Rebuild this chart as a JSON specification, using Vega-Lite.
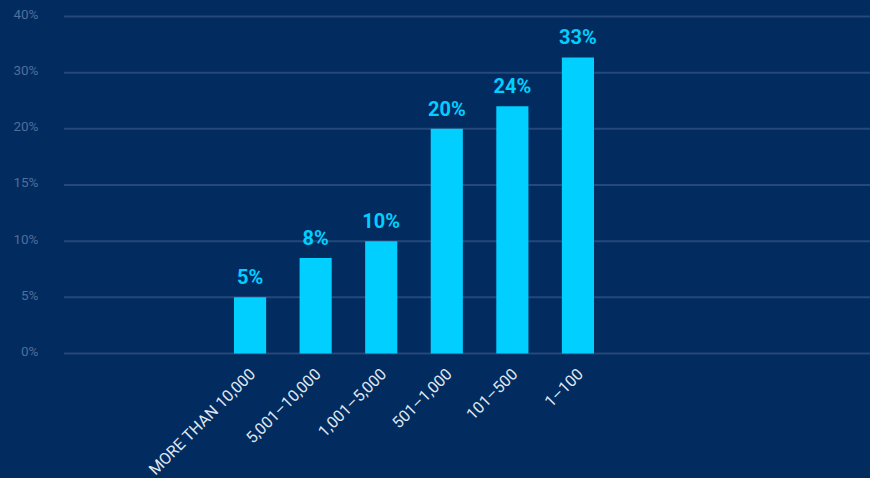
{
  "$schema": "https://vega.github.io/schema/vega-lite/v6.json",
  "width": 806,
  "height": 337,
  "autosize": {"type": "none"},
  "padding": {"left": 64, "top": 16.5, "right": 0, "bottom": 124.5},
  "background": "#022b5f",
  "config": {
    "view": {"stroke": null},
    "font": "Roboto"
  },
  "datasets": {
    "shares": [
      {"size": "MORE THAN 10,000", "pct": 5, "label": "5%"},
      {"size": "5,001–10,000", "pct": 8.5, "label": "8%"},
      {"size": "1,001–5,000", "pct": 10, "label": "10%"},
      {"size": "501–1,000", "pct": 20, "label": "20%"},
      {"size": "101–500", "pct": 24, "label": "24%"},
      {"size": "1–100", "pct": 32.7, "label": "33%"}
    ],
    "grid": [
      {"pct": 0}, {"pct": 5}, {"pct": 10}, {"pct": 15}, {"pct": 20}, {"pct": 30}, {"pct": 40}
    ]
  },
  "resolve": {"scale": {"y": "shared"}},
  "layer": [
    {
      "data": {"name": "grid"},
      "mark": {"type": "rule", "color": "#25497a", "strokeWidth": 2},
      "encoding": {
        "y": {
          "field": "pct",
          "type": "quantitative",
          "scale": {"type": "linear", "domain": [0, 20, 40], "range": [337, 112.3, 0], "nice": false, "zero": false},
          "axis": {
            "title": null,
            "values": [0, 5, 10, 15, 20, 30, 40],
            "labelExpr": "datum.value + '%'",
            "domain": false,
            "ticks": false,
            "grid": false,
            "labelColor": "#4f6e9c",
            "labelFontSize": 13.5,
            "labelPadding": 26,
            "labelOffset": -2,
            "labelFont": "Roboto"
          }
        }
      }
    },
    {
      "data": {"name": "shares"},
      "encoding": {
        "x": {
          "field": "size",
          "type": "nominal",
          "sort": null,
          "scale": {"paddingInner": 0.51, "paddingOuter": 0, "range": [170, 530]},
          "axis": {
            "title": null,
            "domain": false,
            "ticks": false,
            "labelAngle": -45,
            "labelAlign": "right",
            "labelBaseline": "top",
            "labelPadding": 12,
            "labelOffset": -3,
            "labelFontSize": 16,
            "labelColor": "#dfe6f0",
            "labelFont": "Roboto"
          }
        },
        "y": {"field": "pct", "type": "quantitative"}
      },
      "layer": [
        {"mark": {"type": "bar", "color": "#00cfff"}},
        {
          "mark": {"type": "text", "color": "#00cfff", "fontSize": 20, "fontWeight": "bold", "baseline": "bottom", "dy": -9, "font": "Roboto"},
          "encoding": {"text": {"field": "label"}}
        }
      ]
    }
  ]
}
